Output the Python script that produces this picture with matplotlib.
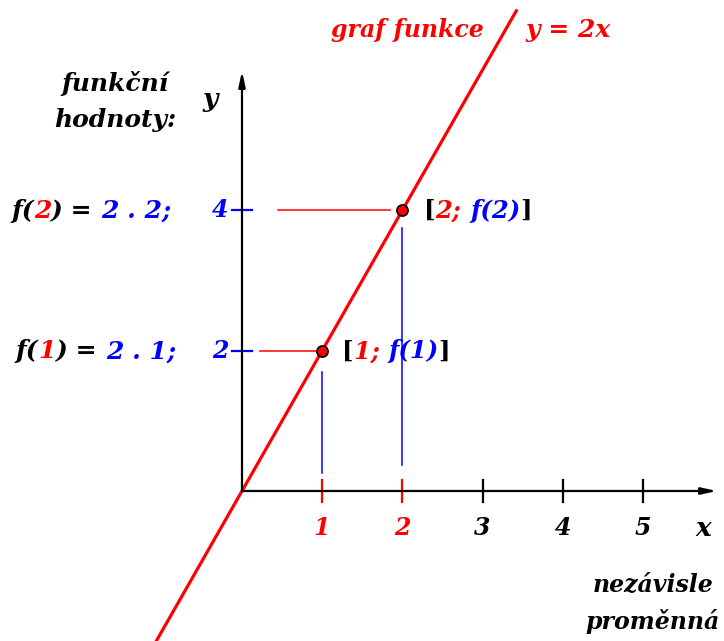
import numpy as np
import matplotlib
matplotlib.use("Agg")
import matplotlib.pyplot as plt
import matplotlib.transforms as mtransforms

# data
x_ticks = [1, 2, 3, 4, 5]
x_tick_colors = ['red', 'red', 'black', 'black', 'black']
point_x = [1, 2]
point_y = [2, 4]          # f(x) = 2x
line_x = [-1.1, 3.42]

FONT = 'DejaVu Serif'
RED = '#ff0000'
BLUE = '#0000ff'

fig = plt.figure(figsize=(7.24, 6.41), dpi=100)
ax = fig.add_axes([0, 0, 1, 1])
# 1 unit of x = 80.2 px, 1 unit of y = 70.2 px, origin at (242, 491) px
ax.set_xlim(-242 / 80.2, (724 - 242) / 80.2)
ax.set_ylim(-(641 - 491) / 70.2, 491 / 70.2)
ax.axis('off')


def txt(x, y, s, color='black', size=17, style='italic', **kw):
    return ax.text(x, y, s, color=color, fontsize=size, fontstyle=style,
                   fontweight='bold', family=FONT, **kw)


# graph of y = 2x
lx = np.array(line_x)
ax.plot(lx, 2 * lx, color=RED, lw=2.3, zorder=3)

# axes with arrows
ax.annotate('', xy=(5.92, 0), xytext=(0, 0),
            arrowprops=dict(arrowstyle='-|>,head_length=0.9,head_width=0.2',
                            color='black', lw=1.6, shrinkA=0, shrinkB=0))
ax.annotate('', xy=(0, 5.98), xytext=(0, 0),
            arrowprops=dict(arrowstyle='-|>,head_length=0.9,head_width=0.2',
                            color='black', lw=1.6, shrinkA=0, shrinkB=0))

# x ticks and labels
for xv, c in zip(x_ticks, x_tick_colors):
    ax.plot([xv, xv], [-0.16, 0.16], color=c, lw=1.6)
    txt(xv, -0.53, str(xv), color=c, size=17, ha='center', va='center')
txt(5.75, -0.53, 'x', size=19, ha='center', va='center')

# y ticks and labels
for yv in point_y:
    ax.plot([-0.12, 0.12], [yv, yv], color=BLUE, lw=1.6)
    txt(-0.17, yv, str(yv), color=BLUE, size=17, ha='right', va='center')
txt(-0.4, 5.57, 'y', size=19, ha='center', va='center')

# guide lines
ax.plot([1, 1], [0.26, 1.70], color=BLUE, lw=1.1)
ax.plot([2, 2], [0.37, 3.75], color=BLUE, lw=1.1)
ax.plot([0.45, 1.85], [4, 4], color=RED, lw=1.1)
ax.plot([0.22, 0.92], [2, 2], color=RED, lw=1.1)

# points
ax.plot(point_x, point_y, 'o', color=RED, mec='black', mew=1.2, ms=8, zorder=5)

fig.canvas.draw()
renderer = fig.canvas.get_renderer()


def colored(x, y, parts, size=17):
    px, py = ax.transData.transform((x, y))
    for s, c, st in parts:
        t = ax.text(px, py, s, color=c, fontsize=size, fontstyle=st,
                    fontweight='bold', family=FONT, va='baseline',
                    transform=mtransforms.IdentityTransform())
        px += t.get_window_extent(renderer).width


base = -0.11
for xv, yv in zip(point_x, point_y):
    colored(-2.88 + 0.06 * (xv == 1), yv + base,
            [('f(', 'black', 'italic'), (str(xv), RED, 'italic'),
             (') = ', 'black', 'italic'), ('2 . %d;' % xv, BLUE, 'italic')],
            size=18)
    colored(xv + 0.27 - 0.02 * (xv == 1), yv + base,
            [('[', 'black', 'normal'), ('%d; ' % xv, RED, 'italic'),
             ('f(%d)' % xv, BLUE, 'italic'), (']', 'black', 'normal')],
            size=17.5)

# texts
txt(-1.58, 5.55, 'funkční\nhodnoty:', size=18, ha='center', va='center', linespacing=1.6)
txt(3.02, 6.57, 'graf funkce', color=RED, ha='right', va='center')
txt(3.53, 6.57, 'y = 2x', color=RED, size=18, ha='left', va='center')
txt(5.12, -1.60, 'nezávisle\nproměnná', ha='center', va='center', linespacing=1.6)

fig.savefig('out.png', dpi=100)
